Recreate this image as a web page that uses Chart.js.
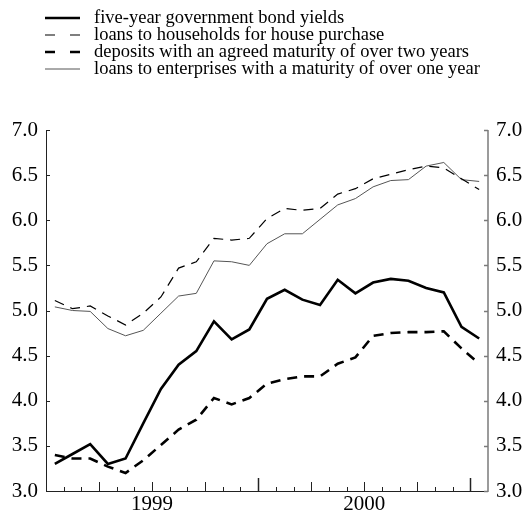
<!DOCTYPE html>
<html>
<head>
<meta charset="utf-8">
<script src="https://cdn.jsdelivr.net/npm/chart.js@4/dist/chart.umd.min.js"></script>
<style>
html,body{margin:0;padding:0;background:#fff;}
#wrap{position:relative;width:525px;height:512px;overflow:hidden;}
#chart{position:absolute;left:0;top:0;}
#legend{position:absolute;left:0;top:0;width:525px;height:90px;font-family:"Liberation Serif","Times New Roman",serif;font-size:18.5px;color:#000;}
.row{position:absolute;left:45px;height:18px;white-space:nowrap;}
.row svg{position:absolute;left:0;top:0;}
.row span{position:absolute;left:49px;top:-1px;line-height:18px;}
</style>
</head>
<body>
<div id="wrap">
<canvas id="chart" width="525" height="512"></canvas>
<div id="legend"></div>
</div>
<script>
// ---- data (monthly, Jan 1999 - Jan 2001) ----
const months = ['1999-01','1999-02','1999-03','1999-04','1999-05','1999-06','1999-07','1999-08','1999-09','1999-10','1999-11','1999-12',
                '2000-01','2000-02','2000-03','2000-04','2000-05','2000-06','2000-07','2000-08','2000-09','2000-10','2000-11','2000-12','2001-01'];
const bondYields      = [3.30,3.41,3.52,3.30,3.36,3.75,4.13,4.40,4.55,4.88,4.68,4.79,5.13,5.23,5.12,5.06,5.34,5.19,5.31,5.35,5.33,5.25,5.20,4.82,4.69];
const householdLoans  = [5.11,5.02,5.05,4.94,4.84,4.97,5.15,5.47,5.54,5.80,5.78,5.80,6.02,6.13,6.11,6.13,6.29,6.35,6.46,6.51,6.56,6.60,6.58,6.46,6.34];
const longDeposits    = [3.40,3.36,3.36,3.27,3.20,3.34,3.51,3.68,3.79,4.03,3.96,4.03,4.19,4.24,4.27,4.27,4.41,4.48,4.72,4.75,4.76,4.76,4.77,4.58,4.41];
const enterpriseLoans = [5.04,5.00,4.99,4.80,4.72,4.78,4.97,5.16,5.19,5.55,5.54,5.50,5.74,5.85,5.85,6.01,6.17,6.24,6.37,6.44,6.45,6.60,6.64,6.45,6.43];
const seriesNames = ['five-year government bond yields','loans to households for house purchase','deposits with an agreed maturity of over two years','loans to enterprises with a maturity of over one year'];
const yearLabels = ['1999','2000'];
const yTicks = [3.0,3.5,4.0,4.5,5.0,5.5,6.0,6.5,7.0];

const styles = [
  {color:'#000', width:2.6, dash:[]},
  {color:'#000', width:1.2, dash:[10,7]},
  {color:'#000', width:2.6, dash:[10,7]},
  {color:'#555', width:1.0, dash:[]}
];
const seriesData = [bondYields, householdLoans, longDeposits, enterpriseLoans];

// ---- legend (HTML) ----
const legend = document.getElementById('legend');
const legendY = [18, 35, 52, 69];
seriesNames.forEach((name, i) => {
  const s = styles[i];
  const row = document.createElement('div');
  row.className = 'row';
  row.style.top = (legendY[i] - 9) + 'px';
  const dash = s.dash.length ? 'stroke-dasharray="10,15"' : '';
  row.innerHTML = '<svg width="36" height="18"><line x1="0" y1="9" x2="35" y2="9" stroke="' + s.color + '" stroke-width="' + s.width + '" ' + dash + '/></svg><span>' + name + '</span>';
  legend.appendChild(row);
});

const fontSerif = {family: '"Liberation Serif","Times New Roman",serif', size: 21};

const axesPlugin = {
  id: 'axesPlugin',
  afterDatasetsDraw(chart) {
    const ctx = chart.ctx;
    const a = chart.chartArea;
    const xs = chart.scales.x, ys = chart.scales.y;
    ctx.save();
    ctx.setLineDash([]);
    ctx.strokeStyle = '#222'; ctx.lineWidth = 1;
    ctx.beginPath(); ctx.moveTo(a.left + 0.5, a.top); ctx.lineTo(a.left + 0.5, a.bottom); ctx.stroke();
    ctx.beginPath(); ctx.moveTo(a.left, a.bottom + 0.5); ctx.lineTo(a.right, a.bottom + 0.5); ctx.stroke();
    yTicks.forEach(v => {
      const y = Math.round(ys.getPixelForValue(v)) + 0.5;
      ctx.beginPath(); ctx.moveTo(a.left, y); ctx.lineTo(a.left + 4, y); ctx.stroke();
    });
    for (let i = 1; i < months.length; i++) {
      const x = Math.round(xs.getPixelForValue(i)) + 0.5;
      const len = (i % 12 === 0) ? 13 : (i % 3 === 0 ? 9 : 4);
      ctx.lineWidth = (i % 12 === 0) ? 1.5 : 1;
      ctx.beginPath(); ctx.moveTo(x, a.bottom); ctx.lineTo(x, a.bottom - len); ctx.stroke();
    }
    ctx.strokeStyle = '#7a7a7a'; ctx.lineWidth = 1.5;
    ctx.beginPath(); ctx.moveTo(a.right, a.top); ctx.lineTo(a.right, a.bottom + 1); ctx.stroke();
    yTicks.forEach(v => {
      const y = Math.round(ys.getPixelForValue(v)) + 0.5;
      ctx.beginPath(); ctx.moveTo(a.right, y); ctx.lineTo(a.right - 4, y); ctx.stroke();
    });
    ctx.restore();
  }
};

const yAxisCommon = {
  type: 'linear', min: 3, max: 7,
  grid: {display: false, drawTicks: false, tickLength: 0}, border: {display: false},
  afterBuildTicks: s => { s.ticks = yTicks.map(v => ({value: v})); },
  ticks: {font: fontSerif, color: '#000', padding: 8, callback: v => Number(v).toFixed(1)}
};

new Chart(document.getElementById('chart'), {
  type: 'line',
  data: {
    datasets: seriesData.map((arr, i) => ({
      label: seriesNames[i],
      data: arr.map((v, k) => ({x: k + 0.5, y: v})),
      borderColor: styles[i].color,
      borderWidth: styles[i].width,
      borderDash: styles[i].dash,
      pointRadius: 0,
      tension: 0,
      fill: false
    }))
  },
  options: {
    responsive: false,
    animation: false,
    events: [],
    layout: {padding: {top: 130, left: 0, right: 0, bottom: 0}},
    plugins: {legend: {display: false}, tooltip: {enabled: false}},
    scales: {
      x: {
        type: 'linear', min: 0, max: 25,
        grid: {display: false, drawTicks: false, tickLength: 0}, border: {display: false},
        afterBuildTicks: s => { s.ticks = yearLabels.map((l, i) => ({value: 6 + 12 * i})); },
        afterFit: s => { s.height = 21; },
        ticks: {font: fontSerif, color: '#000', padding: 1, maxRotation: 0, autoSkip: false,
                callback: v => yearLabels[Math.round((v - 6) / 12)]}
      },
      y: Object.assign({}, yAxisCommon, {position: 'left', afterFit: s => { s.width = 46; }}),
      y2: Object.assign({}, yAxisCommon, {position: 'right', afterFit: s => { s.width = 37; }})
    }
  },
  plugins: [axesPlugin]
});
</script>
</body>
</html>
